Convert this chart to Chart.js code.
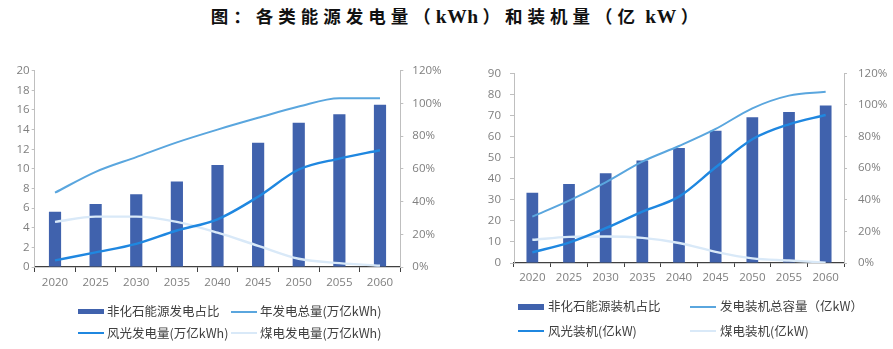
<!DOCTYPE html>
<html>
<head>
<meta charset="utf-8">
<script src="https://cdn.jsdelivr.net/npm/chart.js@4.4.1/dist/chart.umd.min.js"></script>
<style>
  html, body { margin: 0; padding: 0; background: #ffffff; }
  #page { position: relative; width: 893px; height: 349px; overflow: hidden; background: #fff; }
  #title {
    position: absolute; left: 0; top: 5px; width: 914px; text-align: center;
    line-height: 22px; white-space: nowrap; color: #111; font-weight: bold;
    font-family: "Noto Sans CJK SC", sans-serif; font-size: 17.5px; letter-spacing: 5px;
  }
  #title .la { font-family: "Liberation Serif", serif; font-size: 19.5px; letter-spacing: 0.5px; margin-right: 4px; }
  canvas { position: absolute; }
  .lg { position: absolute; font-family: "Noto Sans CJK SC", sans-serif; font-size: 12.5px; color: #404040; white-space: nowrap; }
  .lg .sw { position: absolute; }
  .lg .tx { position: absolute; line-height: 16px; }
</style>
</head>
<body>
<div id="page">
  <div id="title">图：各类能源发电量（<span class="la">kWh</span>）和装机量（亿<span class="la"> kW</span>）</div>
  <canvas id="genChart" width="450" height="250" style="left:0px;top:50px;"></canvas>
  <canvas id="capChart" width="443" height="250" style="left:450px;top:50px;"></canvas>
  <div id="genLegend"></div>
  <div id="capLegend"></div>
</div>
<script>
// Years on the category axis
const years = ['2020', '2025', '2030', '2035', '2040', '2045', '2050', '2055', '2060'];

// Generation (万亿kWh) and non-fossil share of generation (%)
const genShare      = [33.8, 38.5, 44.4, 52.3, 62.4, 76.0, 88.2, 93.4, 99.2];
const genTotal      = [7.57, 9.7, 11.2, 12.7, 14.0, 15.2, 16.35, 17.2, 17.2];
const genWindSolar  = [0.68, 1.49, 2.36, 3.72, 4.86, 7.16, 9.93, 11.05, 11.9];
const genCoal       = [4.6, 5.13, 5.13, 4.6, 3.5, 2.16, 0.84, 0.4, 0.14];

// Installed capacity (亿kW) and non-fossil share of capacity (%)
const capShare      = [44.5, 50.0, 56.8, 64.9, 72.8, 83.7, 92.2, 95.5, 99.7];
const capTotal      = [22.0, 29.6, 38.3, 48.1, 55.5, 63.6, 73.4, 79.4, 81.3];
const capWindSolar  = [5.06, 9.65, 16.5, 24.4, 31.5, 45.4, 58.7, 65.8, 70.2];
const capCoal       = [11.0, 12.4, 12.6, 11.9, 9.5, 5.3, 2.2, 1.2, 0.2];

// Series names
const genLabels = ['非化石能源发电占比', '年发电总量(万亿kWh)', '风光发电量(万亿kWh)', '煤电发电量(万亿kWh)'];
const capLabels = ['非化石能源装机占比', '发电装机总容量（亿kW）', '风光装机(亿kW)', '煤电装机(亿kW)'];

// Axis ranges
const genAxisMax = 20, genAxisStep = 2;
const capAxisMax = 90, capAxisStep = 10;
const pctAxisMax = 120, pctAxisStep = 20;

const COLORS = {
  bar: '#4062ad',
  total: '#5aa6de',
  wind: '#1f87e0',
  coal: '#d9e9f8'
};

const tickFont = { family: 'Open Sans', size: 11.5 };
const tickColor = '#7f7f7f';

function buildChart(id, labels, share, total, wind, coal, leftMax, leftStep, geo) {
  const ctx = document.getElementById(id).getContext('2d');
  const lineBase = { yAxisID: 'y', pointRadius: 0, fill: false, cubicInterpolationMode: 'monotone' };
  return new Chart(ctx, {
    type: 'bar',
    data: {
      labels: years,
      datasets: [
        Object.assign({ type: 'line', label: labels[2], data: wind, order: 1,
          borderColor: COLORS.wind, borderWidth: 2.4 }, lineBase),
        Object.assign({ type: 'line', label: labels[1], data: total, order: 2,
          borderColor: COLORS.total, borderWidth: 2 }, lineBase),
        Object.assign({ type: 'line', label: labels[3], data: coal, order: 3,
          borderColor: COLORS.coal, borderWidth: 2.4 }, lineBase),
        { type: 'bar', label: labels[0], data: share, yAxisID: 'y1', order: 10,
          backgroundColor: COLORS.bar, borderWidth: 0,
          categoryPercentage: 1.0, barPercentage: geo.barPct }
      ]
    },
    options: {
      responsive: false,
      animation: false,
      devicePixelRatio: 1,
      layout: { padding: { top: geo.padTop, left: 0, right: 0, bottom: 0 } },
      plugins: { legend: { display: false }, tooltip: { enabled: false }, title: { display: false } },
      scales: {
        x: {
          offset: true,
          grid: { display: true, drawOnChartArea: false, offset: true, tickLength: geo.xTick, color: '#404040', lineWidth: 1 },
          border: { display: true, color: '#404040', width: 1.3 },
          ticks: { font: tickFont, color: tickColor, padding: geo.xPad, maxRotation: 0, autoSkip: false },
          afterFit: s => { s.height = geo.xHeight; }
        },
        y: {
          position: 'left', min: 0, max: leftMax,
          grid: { display: true, drawOnChartArea: false, tickLength: geo.yTick, color: '#bfbfbf' },
          border: { display: true, color: '#bfbfbf', width: 1 },
          ticks: { stepSize: leftStep, font: tickFont, color: tickColor, padding: geo.yPad },
          afterFit: s => { s.width = geo.yWidth; }
        },
        y1: {
          position: 'right', min: 0, max: pctAxisMax,
          grid: { display: true, drawOnChartArea: false, tickLength: geo.y1Tick, color: '#bfbfbf' },
          border: { display: true, color: '#bfbfbf', width: 1 },
          ticks: { stepSize: pctAxisStep, font: tickFont, color: tickColor, padding: geo.y1Pad,
                   callback: v => v + '%' },
          afterFit: s => { s.width = geo.y1Width; }
        }
      }
    }
  });
}

buildChart('genChart', genLabels, genShare, genTotal, genWindSolar, genCoal, genAxisMax, genAxisStep, {
  padTop: 20.7, xHeight: 33, xTick: 5, xPad: 4, yWidth: 34.7, yTick: 3, yPad: 2,
  y1Width: 49.7, y1Tick: 3, y1Pad: 9, barPct: 0.30
});

buildChart('capChart', capLabels, capShare, capTotal, capWindSolar, capCoal, capAxisMax, capAxisStep, {
  padTop: 23.3, xHeight: 37, xTick: 4, xPad: 4, yWidth: 64, yTick: 4, yPad: 9,
  y1Width: 49, y1Tick: 3, y1Pad: 11, barPct: 0.32
});

// Legends: two rows of two entries, drawn as page text
function buildLegend(hostId, labels, pos) {
  const host = document.getElementById(hostId);
  const kinds = [
    { color: COLORS.bar, h: pos.barH },
    { color: COLORS.total, h: 2 },
    { color: COLORS.wind, h: 2.4 },
    { color: COLORS.coal, h: 2.4 }
  ];
  labels.forEach((text, i) => {
    const row = Math.floor(i / 2), col = i % 2;
    const cy = pos.rows[row];
    const sx = pos.swatchX[col];
    const item = document.createElement('div');
    item.className = 'lg';
    item.style.left = '0px'; item.style.top = '0px';
    const sw = document.createElement('div');
    sw.className = 'sw';
    sw.style.left = sx + 'px';
    sw.style.width = pos.swatchW + 'px';
    sw.style.top = (cy - kinds[i].h / 2) + 'px';
    sw.style.height = kinds[i].h + 'px';
    sw.style.background = kinds[i].color;
    const tx = document.createElement('div');
    tx.className = 'tx';
    tx.style.left = (sx + pos.swatchW + pos.gap) + 'px';
    tx.style.top = (cy - 8.5) + 'px';
    tx.textContent = text;
    item.appendChild(sw); item.appendChild(tx);
    host.appendChild(item);
  });
}

buildLegend('genLegend', genLabels, { rows: [311.7, 333], swatchX: [78, 231], swatchW: 26, gap: 3, barH: 5 });
buildLegend('capLegend', capLabels, { rows: [306.7, 331], swatchX: [518, 690], swatchW: 26, gap: 4, barH: 6 });
</script>
</body>
</html>
